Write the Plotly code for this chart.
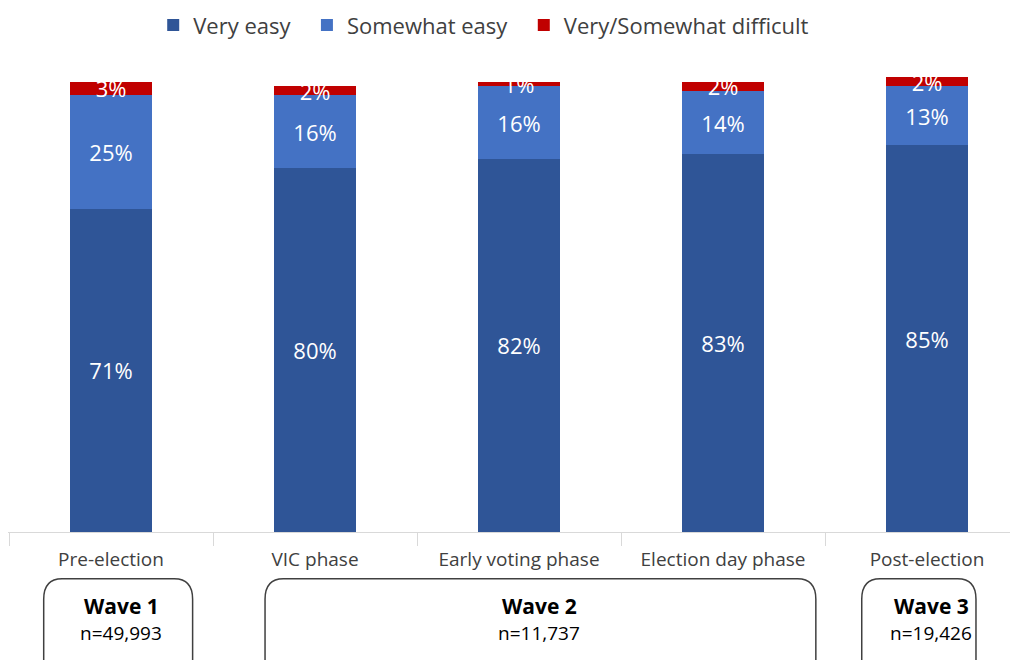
import plotly.graph_objects as go

categories = ["Pre-election", "VIC phase", "Early voting phase", "Election day phase", "Post-election"]
very_easy = [71, 80, 82, 83, 85]
somewhat_easy = [25, 16, 16, 14, 13]
difficult = [3, 2, 1, 2, 2]
series_names = ["Very easy", "Somewhat easy", "Very/Somewhat difficult"]
colors = ["#2F5597", "#4472C4", "#C00000"]

waves = ["Wave 1", "Wave 2", "Wave 3"]
wave_n = ["n=49,993", "n=11,737", "n=19,426"]
# wave spans in category index units (left, right) and text centre
wave_spans = [(-0.33, 0.40), (0.755, 3.455), (3.68, 4.24)]
wave_text_x = [0.05, 2.10, 4.02]

FONT = "Open Sans, sans-serif"
PAD = ["\u00a0\u00a0", "\u00a0\u00a0", ""]

fig = go.Figure()
for name, pad, vals, col in zip(series_names, PAD, [very_easy, somewhat_easy, difficult], colors):
    fig.add_trace(go.Bar(
        name=name + pad, x=categories, y=vals, marker=dict(color=col, line=dict(width=0)),
        text=[f"{v}%" for v in vals], textposition="inside", insidetextanchor="middle",
        constraintext="none", textangle=0,
        textfont=dict(color="white", size=22, family=FONT),
        width=0.4,
    ))

shapes = []
annotations = []
rx = 0.09
ry = 0.045
top = -0.103
bot = -0.36
for (x0, x1), xc, w, n in zip(wave_spans, wave_text_x, waves, wave_n):
    path = (f"M {x0+rx},{top} L {x1-rx},{top} Q {x1},{top} {x1},{top-ry} "
            f"L {x1},{bot+ry} Q {x1},{bot} {x1-rx},{bot} L {x0+rx},{bot} "
            f"Q {x0},{bot} {x0},{bot+ry} L {x0},{top-ry} Q {x0},{top} {x0+rx},{top} Z")
    shapes.append(dict(type="path", path=path, xref="x", yref="paper",
                       line=dict(color="#404040", width=1.5), fillcolor="rgba(0,0,0,0)"))
    annotations.append(dict(x=xc, y=-0.163, xref="x", yref="paper", text=f"<b>{w}</b>",
                            xanchor="center", yanchor="middle",
                            showarrow=False, font=dict(size=21, color="#000000", family=FONT)))
    annotations.append(dict(x=xc, y=-0.222, xref="x", yref="paper", text=n,
                            xanchor="center", yanchor="middle",
                            showarrow=False, font=dict(size=19, color="#000000", family=FONT)))

fig.update_layout(
    barmode="stack",
    width=1010, height=652,
    margin=dict(l=0, r=0, t=69, b=128, autoexpand=False),
    paper_bgcolor="white", plot_bgcolor="white",
    font=dict(family=FONT, color="#404040"),
    shapes=shapes, annotations=annotations,
    legend=dict(orientation="h", x=0.471, xanchor="center", y=1.114, yanchor="middle",
                bgcolor="rgba(0,0,0,0)",
                font=dict(size=22, color="#404040", family=FONT), traceorder="normal"),
    xaxis=dict(range=[-0.505, 4.446], showline=True, linecolor="#D9D9D9", linewidth=1,
               ticks="outside", tickson="boundaries", ticklen=13, tickcolor="#D9D9D9",
               tickfont=dict(size=19, color="#404040", family=FONT), showgrid=False,
               ticklabelstandoff=10, automargin=False),
    yaxis=dict(range=[0, 100], visible=False),
)

fig.write_html("out.html")
